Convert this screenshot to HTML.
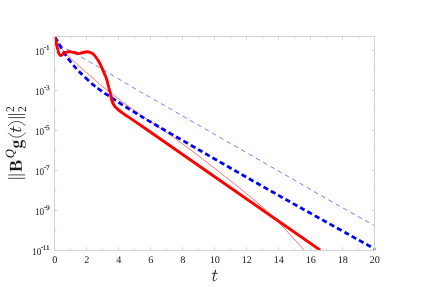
<!DOCTYPE html><html><head><meta charset="utf-8"><style>html,body{margin:0;padding:0;background:#fff;}svg{display:block;will-change:transform;}text{font-family:"Liberation Serif",serif;fill:#1a1a1a;text-rendering:geometricPrecision;}</style></head><body>
<svg width="429" height="287" viewBox="0 0 429 287">
<rect width="429" height="287" fill="#fff"/>
<defs><clipPath id="c"><rect x="53.30" y="35.30" width="322.10" height="215.10"/></clipPath></defs>
<g clip-path="url(#c)" fill="none">
<path d="M55.00,37.00 C55.50,37.75 57.00,40.12 58.00,41.50 C59.00,42.88 59.72,44.13 61.00,45.30 C62.28,46.47 63.87,47.38 65.70,48.50 C67.53,49.62 69.62,50.68 72.00,52.00 C74.38,53.32 76.67,54.53 80.00,56.40 C83.33,58.27 88.50,61.20 92.00,63.20 C95.50,65.20 93.67,64.07 101.00,68.40 C108.33,72.73 127.08,83.97 136.00,89.20 C144.92,94.43 138.83,90.80 154.50,99.80 C170.17,108.80 206.25,129.57 230.00,143.20 C253.75,156.83 280.33,172.02 297.00,181.60 C313.67,191.18 317.08,193.37 330.00,200.70 C342.92,208.03 367.08,221.45 374.50,225.60" stroke="#4040ff" stroke-width="0.7" stroke-dasharray="4.7 3.7"/>
<path d="M55.00,37.00 C55.50,37.92 56.92,40.62 58.00,42.50 C59.08,44.38 60.22,46.48 61.50,48.30 C62.78,50.12 64.12,51.67 65.70,53.40 C67.28,55.13 69.15,56.95 71.00,58.70 C72.85,60.45 75.30,62.55 76.80,63.90 C78.30,65.25 76.87,64.03 80.00,66.80 C83.13,69.57 92.27,77.55 95.60,80.50 C98.93,83.45 96.93,82.00 100.00,84.50 C103.07,87.00 108.17,91.10 114.00,95.50 C119.83,99.90 129.00,106.60 135.00,110.90 C141.00,115.20 143.53,116.87 150.00,121.30 C156.47,125.73 165.98,131.95 173.80,137.50 C181.62,143.05 189.20,148.75 196.90,154.60 C204.60,160.45 212.48,166.70 220.00,172.60 C227.52,178.50 235.40,184.67 242.00,190.00 C248.60,195.33 254.93,200.57 259.60,204.60 C264.27,208.63 267.00,211.37 270.00,214.20 C273.00,217.03 274.93,218.93 277.60,221.60 C280.27,224.27 283.43,227.50 286.00,230.20 C288.57,232.90 290.05,234.57 293.00,237.80 C295.95,241.03 301.70,247.37 303.70,249.60 C305.70,251.83 304.78,250.93 305.00,251.20" stroke="#ff2828" stroke-width="0.65"/>
<path d="M55.00,37.00 C55.33,37.58 56.10,38.92 57.00,40.50 C57.90,42.08 58.97,44.08 60.40,46.50 C61.83,48.92 63.67,52.17 65.60,55.00 C67.53,57.83 69.60,60.60 72.00,63.50 C74.40,66.40 76.53,68.90 80.00,72.40 C83.47,75.90 89.47,81.58 92.80,84.50 C96.13,87.42 97.67,88.20 100.00,89.90 C102.33,91.60 104.47,93.13 106.80,94.70 C109.13,96.27 111.67,97.78 114.00,99.30 C116.33,100.82 118.47,102.30 120.80,103.80 C123.13,105.30 125.43,106.73 128.00,108.30 C130.57,109.87 133.63,111.63 136.20,113.20 C138.77,114.77 141.10,116.30 143.40,117.70 C145.70,119.10 140.57,116.13 150.00,121.60 C159.43,127.07 183.33,140.90 200.00,150.50 C216.67,160.10 233.33,169.72 250.00,179.20 C266.67,188.68 283.33,198.07 300.00,207.40 C316.67,216.73 337.58,228.32 350.00,235.20 C362.42,242.08 370.17,246.32 374.50,248.70 C378.83,251.08 375.75,249.37 376.00,249.50" stroke="#0000ff" stroke-width="2.8" stroke-dasharray="5.2 3.2"/>
<path d="M54.90,37.10 C55.27,38.75 56.47,44.35 57.10,47.00 C57.73,49.65 58.15,51.60 58.70,53.00 C59.25,54.40 59.75,55.17 60.40,55.40 C61.05,55.63 61.77,54.88 62.60,54.40 C63.43,53.92 64.20,52.93 65.40,52.50 C66.60,52.07 68.28,51.80 69.80,51.80 C71.32,51.80 73.00,52.20 74.50,52.50 C76.00,52.80 77.38,53.60 78.80,53.60 C80.22,53.60 81.63,52.80 83.00,52.50 C84.37,52.20 85.62,51.73 87.00,51.80 C88.38,51.87 90.25,52.50 91.30,52.90 C92.35,53.30 92.68,53.68 93.30,54.20 C93.92,54.72 94.12,54.82 95.00,56.00 C95.88,57.18 97.47,59.37 98.60,61.30 C99.73,63.23 100.75,65.33 101.80,67.60 C102.85,69.87 104.08,72.95 104.90,74.90 C105.72,76.85 106.10,77.37 106.70,79.30 C107.30,81.23 107.90,84.22 108.50,86.50 C109.10,88.78 109.85,91.15 110.30,93.00 C110.75,94.85 110.85,96.10 111.20,97.60 C111.55,99.10 111.95,100.78 112.40,102.00 C112.85,103.22 113.35,104.00 113.90,104.90 C114.45,105.80 115.02,106.63 115.70,107.40 C116.38,108.17 116.72,108.47 118.00,109.50 C119.28,110.53 121.77,112.42 123.40,113.60 C125.03,114.78 126.37,115.63 127.80,116.60 C129.23,117.57 129.87,117.97 132.00,119.40 C134.13,120.83 139.17,124.23 140.60,125.20 L320.30,250.20" stroke="#ff0000" stroke-width="2.9" stroke-linejoin="round"/>
</g>
<g stroke="#d2d2d2" stroke-width="1" fill="none">
<rect x="54.50" y="36.50" width="320.00" height="213.90"/>
<path d="M54.50,250.40 v-3.20 M54.50,36.50 v3.20"/>
<path d="M70.50,250.40 v-1.90 M70.50,36.50 v1.90"/>
<path d="M86.50,250.40 v-3.20 M86.50,36.50 v3.20"/>
<path d="M102.50,250.40 v-1.90 M102.50,36.50 v1.90"/>
<path d="M118.50,250.40 v-3.20 M118.50,36.50 v3.20"/>
<path d="M134.50,250.40 v-1.90 M134.50,36.50 v1.90"/>
<path d="M150.50,250.40 v-3.20 M150.50,36.50 v3.20"/>
<path d="M166.50,250.40 v-1.90 M166.50,36.50 v1.90"/>
<path d="M182.50,250.40 v-3.20 M182.50,36.50 v3.20"/>
<path d="M198.50,250.40 v-1.90 M198.50,36.50 v1.90"/>
<path d="M214.50,250.40 v-3.20 M214.50,36.50 v3.20"/>
<path d="M230.50,250.40 v-1.90 M230.50,36.50 v1.90"/>
<path d="M246.50,250.40 v-3.20 M246.50,36.50 v3.20"/>
<path d="M262.50,250.40 v-1.90 M262.50,36.50 v1.90"/>
<path d="M278.50,250.40 v-3.20 M278.50,36.50 v3.20"/>
<path d="M294.50,250.40 v-1.90 M294.50,36.50 v1.90"/>
<path d="M310.50,250.40 v-3.20 M310.50,36.50 v3.20"/>
<path d="M326.50,250.40 v-1.90 M326.50,36.50 v1.90"/>
<path d="M342.50,250.40 v-3.20 M342.50,36.50 v3.20"/>
<path d="M358.50,250.40 v-1.90 M358.50,36.50 v1.90"/>
<path d="M374.50,250.40 v-3.20 M374.50,36.50 v3.20"/>
<path d="M54.50,250.40 h3.00 M374.50,250.40 h-2.40"/>
<path d="M54.50,230.40 h2.00 M374.50,230.40 h-1.30"/>
<path d="M54.50,210.40 h3.00 M374.50,210.40 h-2.40"/>
<path d="M54.50,190.40 h2.00 M374.50,190.40 h-1.30"/>
<path d="M54.50,170.40 h3.00 M374.50,170.40 h-2.40"/>
<path d="M54.50,150.40 h2.00 M374.50,150.40 h-1.30"/>
<path d="M54.50,130.40 h3.00 M374.50,130.40 h-2.40"/>
<path d="M54.50,110.40 h2.00 M374.50,110.40 h-1.30"/>
<path d="M54.50,90.40 h3.00 M374.50,90.40 h-2.40"/>
<path d="M54.50,70.40 h2.00 M374.50,70.40 h-1.30"/>
<path d="M54.50,50.40 h3.00 M374.50,50.40 h-2.40"/>
</g>
<text x="54.80" y="262.9" font-size="10.2" text-anchor="middle">0</text>
<text x="86.80" y="262.9" font-size="10.2" text-anchor="middle">2</text>
<text x="118.80" y="262.9" font-size="10.2" text-anchor="middle">4</text>
<text x="150.80" y="262.9" font-size="10.2" text-anchor="middle">6</text>
<text x="182.80" y="262.9" font-size="10.2" text-anchor="middle">8</text>
<text x="214.80" y="262.9" font-size="10.2" text-anchor="middle">10</text>
<text x="246.80" y="262.9" font-size="10.2" text-anchor="middle">12</text>
<text x="278.80" y="262.9" font-size="10.2" text-anchor="middle">14</text>
<text x="310.80" y="262.9" font-size="10.2" text-anchor="middle">16</text>
<text x="342.80" y="262.9" font-size="10.2" text-anchor="middle">18</text>
<text x="374.80" y="262.9" font-size="10.2" text-anchor="middle">20</text>
<text x="41.30" y="255.30" font-size="10.2" text-anchor="end" textLength="9.2" lengthAdjust="spacingAndGlyphs">10</text>
<text x="49.65" y="250.00" font-size="7.2" text-anchor="end" stroke="#1a1a1a" stroke-width="0.15">11</text>
<rect x="41.30" y="247.05" width="1.5" height="0.9" fill="#1a1a1a"/>
<text x="44.20" y="215.30" font-size="10.2" text-anchor="end" textLength="9.2" lengthAdjust="spacingAndGlyphs">10</text>
<text x="49.65" y="210.00" font-size="7.2" text-anchor="end" stroke="#1a1a1a" stroke-width="0.15">9</text>
<rect x="44.30" y="207.05" width="1.5" height="0.9" fill="#1a1a1a"/>
<text x="44.20" y="175.30" font-size="10.2" text-anchor="end" textLength="9.2" lengthAdjust="spacingAndGlyphs">10</text>
<text x="49.65" y="170.00" font-size="7.2" text-anchor="end" stroke="#1a1a1a" stroke-width="0.15">7</text>
<rect x="44.30" y="167.05" width="1.5" height="0.9" fill="#1a1a1a"/>
<text x="44.20" y="135.30" font-size="10.2" text-anchor="end" textLength="9.2" lengthAdjust="spacingAndGlyphs">10</text>
<text x="49.65" y="130.00" font-size="7.2" text-anchor="end" stroke="#1a1a1a" stroke-width="0.15">5</text>
<rect x="44.30" y="127.05" width="1.5" height="0.9" fill="#1a1a1a"/>
<text x="44.20" y="95.30" font-size="10.2" text-anchor="end" textLength="9.2" lengthAdjust="spacingAndGlyphs">10</text>
<text x="49.65" y="90.00" font-size="7.2" text-anchor="end" stroke="#1a1a1a" stroke-width="0.15">3</text>
<rect x="44.30" y="87.05" width="1.5" height="0.9" fill="#1a1a1a"/>
<text x="44.20" y="55.30" font-size="10.2" text-anchor="end" textLength="9.2" lengthAdjust="spacingAndGlyphs">10</text>
<text x="49.65" y="50.00" font-size="7.2" text-anchor="end" stroke="#1a1a1a" stroke-width="0.15">1</text>
<rect x="44.30" y="47.05" width="1.5" height="0.9" fill="#1a1a1a"/>
<g transform="translate(211.9,280.9)" fill="none" stroke="#1c1c1c"><path d="M3.8,-11 L1.45,-2.7 C1.0,-0.9 1.5,-0.2 2.5,-0.2" stroke-width="1.1"/><path d="M2.4,-0.2 C3.7,-0.2 4.7,-1.3 5.2,-2.7" stroke-width="0.6"/><path d="M0,-7.6 H5.9" stroke-width="0.8"/></g>
<g transform="translate(21.5,179.5) rotate(-90)">
<g stroke="#222" stroke-width="0.8" fill="none">
<path d="M1.20,-13.3 V3.7"/>
<path d="M4.60,-13.3 V3.7"/>
<path d="M61.90,-13.3 V3.7"/>
<path d="M65.00,-13.3 V3.7"/>
<path d="M46.8,-13.4 C40.9,-9 40.9,-0.5 46.8,3.9"/>
<path d="M53.6,-13.4 C59.5,-9 59.5,-0.5 53.6,3.9"/>
</g>
<text x="7.2" y="0" font-size="18.6" font-weight="bold" textLength="12.6" lengthAdjust="spacingAndGlyphs" stroke="#fff" stroke-width="0.35" paint-order="fill stroke">B</text>
<text x="21.2" y="-7.4" font-size="12.6" font-style="italic">Q</text>
<text x="30.8" y="0" font-size="18.4" font-weight="bold" stroke="#fff" stroke-width="0.35" paint-order="fill stroke">g</text>
<g transform="translate(47.2,-0.4)" fill="none" stroke="#1c1c1c"><path d="M3.8,-11 L1.45,-2.7 C1.0,-0.9 1.5,-0.2 2.5,-0.2" stroke-width="1.1"/><path d="M2.4,-0.2 C3.7,-0.2 4.7,-1.3 5.2,-2.7" stroke-width="0.6"/><path d="M0,-7.6 H5.9" stroke-width="0.8"/></g>
<text x="67.4" y="-7.3" font-size="11.7">2</text>
<text x="67.4" y="4.2" font-size="11.7">2</text>
</g>
</svg></body></html>
